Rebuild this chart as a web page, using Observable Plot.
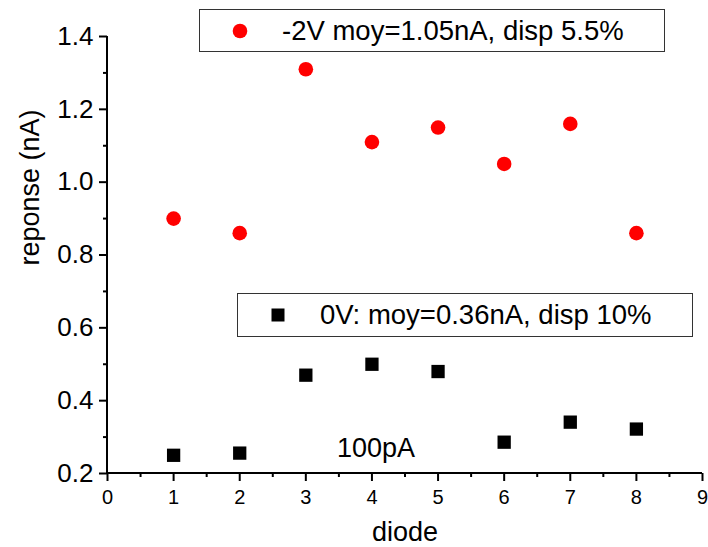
<!DOCTYPE html>
<html>
<head>
<meta charset="utf-8">
<script src="https://cdn.jsdelivr.net/npm/d3@7"></script>
<script src="https://cdn.jsdelivr.net/npm/@observablehq/plot@0.6"></script>
<style>
  html, body { margin: 0; padding: 0; background: #fff; }
  #wrap { position: relative; width: 708px; height: 547px; font-family: "Liberation Sans", Arial, sans-serif; }
  .legend { position: absolute; border: 1.5px solid #333; background: #fff; box-sizing: border-box; font-size: 27.5px; color: #000; }
  .legend svg { position: absolute; }
  .legend span { position: absolute; white-space: nowrap; line-height: 1; }
</style>
</head>
<body>
<div id="wrap"></div>
<script>
// ---- data ----
const diodes = [1, 2, 3, 4, 5, 6, 7, 8];
const reverse2V = [0.90, 0.86, 1.31, 1.11, 1.15, 1.05, 1.16, 0.86];
const bias0V = [0.25, 0.256, 0.47, 0.50, 0.48, 0.286, 0.341, 0.322];
const seriesNames = ["-2V moy=1.05nA, disp 5.5%", "0V: moy=0.36nA, disp 10%"];
const xTicks = [0, 1, 2, 3, 4, 5, 6, 7, 8, 9];
const xMinorTicks = [0.5, 1.5, 2.5, 3.5, 4.5, 5.5, 6.5, 7.5, 8.5];
const yTicks = [0.2, 0.4, 0.6, 0.8, 1.0, 1.2, 1.4];
const yMinorTicks = [0.3, 0.5, 0.7, 0.9, 1.1, 1.3];
const annotation = [{x: 4.06, y: 0.2455, label: "100pA"}];
const xLabel = "diode";
const yLabel = "reponse (nA)";

const red = diodes.map((d, i) => ({diode: d, value: reverse2V[i]}));
const black = diodes.map((d, i) => ({diode: d, value: bias0V[i]}));

const font = "Liberation Sans, Arial, sans-serif";
const axisStyle = {stroke: "#000", strokeOpacity: 1, strokeWidth: 2};

const chart = Plot.plot({
  width: 708,
  height: 547,
  marginLeft: 107,
  marginRight: 6,
  marginTop: 36,
  marginBottom: 74,
  style: {fontFamily: font, background: "#fff", color: "#000", overflow: "visible"},
  x: {domain: [0, 9]},
  y: {domain: [0.2, 1.4]},
  marks: [
    Plot.axisY({ticks: yTicks, tickSize: 8, tickPadding: 6, ...axisStyle, fill: "#000", fontSize: 26, tickFormat: d3.format(".1f"), label: null}),
    Plot.axisY({ticks: yMinorTicks, tickSize: 4, ...axisStyle, text: null, label: null}),
    Plot.axisX({ticks: xTicks, tickSize: 8, tickPadding: 8, ...axisStyle, fill: "#000", fontSize: 20, tickFormat: d3.format("d"), label: null}),
    Plot.axisX({ticks: xMinorTicks, tickSize: 4, ...axisStyle, text: null, label: null}),
    Plot.ruleX([0], {stroke: "#000", strokeWidth: 2, dx: -0.5}),
    Plot.ruleY([0.2], {stroke: "#000", strokeWidth: 2, dy: -0.5}),
    Plot.dot(red, {x: "diode", y: "value", r: 7.3, fill: "#ff0000", stroke: "none"}),
    Plot.dot(black, {x: "diode", y: "value", symbol: "square", r: 7.5, fill: "#000", stroke: "none"}),
    Plot.text(annotation, {x: "x", y: "y", text: "label", fontSize: 27, lineAnchor: "bottom", textAnchor: "middle", fill: "#000"}),
    Plot.text([xLabel], {frameAnchor: "bottom", text: d => d, dy: 67, lineAnchor: "bottom", fontSize: 27, fill: "#000"}),
    Plot.text([yLabel], {frameAnchor: "left", text: d => d, rotate: -90, dx: -77, dy: 10.5, fontSize: 27, fill: "#000"})
  ]
});

const wrap = document.getElementById("wrap");
wrap.appendChild(chart);

// legends (overlay boxes)
function legend(box, symbolSvg, symX, textX, name) {
  const div = document.createElement("div");
  div.className = "legend";
  Object.assign(div.style, {left: box[0] + "px", top: box[1] + "px", width: box[2] + "px", height: box[3] + "px"});
  const s = document.createElementNS("http://www.w3.org/2000/svg", "svg");
  s.setAttribute("width", 20); s.setAttribute("height", 20);
  s.style.left = (symX - box[0] - 10) + "px";
  s.style.top = (box[3] / 2 - 11) + "px";
  s.innerHTML = symbolSvg;
  div.appendChild(s);
  const t = document.createElement("span");
  t.textContent = name;
  t.style.left = (textX - box[0]) + "px";
  t.style.top = (box[3] / 2 - 15) + "px";
  div.appendChild(t);
  wrap.appendChild(div);
}
legend([199, 9, 466, 43], '<circle cx="10" cy="10" r="7.3" fill="#ff0000"/>', 239, 281, seriesNames[0]);
legend([237, 293, 456, 44], '<rect x="3.5" y="3.5" width="13" height="13" fill="#000"/>', 277, 319, seriesNames[1]);
</script>
</body>
</html>
